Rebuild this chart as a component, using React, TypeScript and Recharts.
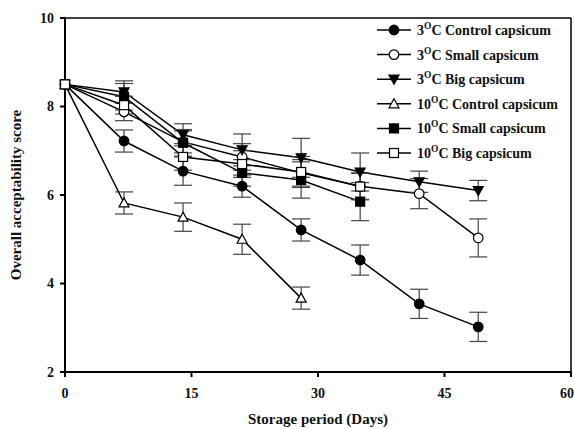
import React from "react";
import {
  LineChart,
  Line,
  XAxis,
  YAxis,
  ErrorBar,
  ReferenceLine,
  Label,
} from "recharts";

const FONT = "'Liberation Serif', 'Times New Roman', serif";

const days = [0, 7, 14, 21, 28, 35, 42, 49];
const xTicks = [0, 15, 30, 45, 60];
const yTicks = [2, 4, 6, 8, 10];

const c3Control = [8.5, 7.22, 6.54, 6.2, 5.21, 4.53, 3.54, 3.02];
const c3ControlErr = [null, 0.25, 0.32, 0.25, 0.25, 0.34, 0.33, 0.33];
const c3Small = [8.5, 7.88, 7.2, 6.86, 6.5, 6.2, 6.03, 5.03];
const c3SmallErr = [null, 0.2, 0.25, 0.3, 0.3, 0.3, 0.34, 0.43];
const c3Big = [8.5, 8.33, 7.36, 7.02, 6.84, 6.52, 6.3, 6.1];
const c3BigErr = [null, 0.25, 0.25, 0.36, 0.44, 0.43, 0.24, 0.23];
const c10Control = [8.5, 5.82, 5.5, 5.0, 3.67, null, null, null];
const c10ControlErr = [null, 0.25, 0.32, 0.34, 0.25, null, null, null];
const c10Small = [8.5, 8.22, 7.18, 6.5, 6.34, 5.85, null, null];
const c10SmallErr = [null, 0.3, 0.3, 0.3, 0.41, 0.43, null, null];
const c10Big = [8.5, 8.03, 6.86, 6.7, 6.52, 6.19, null, null];
const c10BigErr = [null, 0.2, 0.3, 0.3, 0.35, 0.3, null, null];

const series = [
  { key: "c3Control", temp: "3", name: "Control capsicum", shape: "circle", filled: true, values: c3Control, err: c3ControlErr },
  { key: "c3Small", temp: "3", name: "Small capsicum", shape: "circle", filled: false, values: c3Small, err: c3SmallErr },
  { key: "c3Big", temp: "3", name: "Big capsicum", shape: "down", filled: true, values: c3Big, err: c3BigErr },
  { key: "c10Control", temp: "10", name: "Control capsicum", shape: "up", filled: false, values: c10Control, err: c10ControlErr },
  { key: "c10Small", temp: "10", name: "Small capsicum", shape: "square", filled: true, values: c10Small, err: c10SmallErr },
  { key: "c10Big", temp: "10", name: "Big capsicum", shape: "square", filled: false, values: c10Big, err: c10BigErr },
];

const data = days.map((d, i) => {
  const row: Record<string, number | null> = { day: d };
  series.forEach((s) => {
    row[s.key] = s.values[i];
    row[s.key + "Err"] = s.err[i];
  });
  return row;
});

function Marker({ cx, cy, shape, filled }: { cx: number; cy: number; shape: string; filled: boolean }) {
  const fill = filled ? "#000" : "#fff";
  const stroke = "#000";
  if (shape === "circle") return <circle cx={cx} cy={cy} r={4.8} fill={fill} stroke={stroke} strokeWidth={1.2} />;
  if (shape === "square") return <rect x={cx - 4.5} y={cy - 4.5} width={9} height={9} fill={fill} stroke={stroke} strokeWidth={1.2} />;
  if (shape === "down")
    return <polygon points={`${cx - 5},${cy - 4} ${cx + 5},${cy - 4} ${cx},${cy + 5}`} fill={fill} stroke={stroke} strokeWidth={1.2} />;
  return <polygon points={`${cx - 5},${cy + 4} ${cx + 5},${cy + 4} ${cx},${cy - 5}`} fill={fill} stroke={stroke} strokeWidth={1.2} />;
}

const makeDot = (shape: string, filled: boolean) => (props: any) => {
  const { cx, cy, index, value } = props;
  if (value == null || cx == null || cy == null) return <g key={`e-${index}`} />;
  return (
    <g key={`d-${index}`}>
      <Marker cx={cx} cy={cy} shape={shape} filled={filled} />
    </g>
  );
};

function ChartLegend() {
  return (
    <svg width={200} height={150} style={{ position: "absolute", left: 375, top: 20 }}>
      {series.map((s, i) => {
        const y = 10 + i * 24.6;
        return (
          <g key={s.key}>
            <line x1={2} x2={36} y1={y} y2={y} stroke="#000" strokeWidth={1.5} />
            <Marker cx={19} cy={y} shape={s.shape} filled={s.filled} />
            <text x={42} y={y + 5} fontFamily={FONT} fontWeight="bold" fontSize={14} fill="#111">
              {s.temp}
              <tspan fontSize={9.5} dy={-6}>O</tspan>
              <tspan dy={6}>{"C " + s.name}</tspan>
            </text>
          </g>
        );
      })}
    </svg>
  );
}

const tickStyle = { fontFamily: FONT, fontWeight: "bold", fontSize: 14, fill: "#111" };

export default function App() {
  return (
    <div style={{ position: "absolute", left: 0, top: 0, width: 574, height: 429, background: "#fff" }}>
      <LineChart width={574} height={429} data={data} margin={{ top: 18, right: 3, bottom: 0, left: 0 }}>
        <XAxis
          dataKey="day"
          type="number"
          domain={[0, 60]}
          ticks={xTicks}
          height={57}
          stroke="#000"
          strokeWidth={2}
          tickSize={5}
          tick={tickStyle}
          tickMargin={11}
        >
          <Label
            value="Storage period (Days)"
            position="insideBottom"
            offset={5}
            style={{ fontFamily: FONT, fontWeight: "bold", fontSize: 15, fill: "#111" }}
          />
        </XAxis>
        <YAxis
          type="number"
          domain={[2, 10]}
          ticks={yTicks}
          width={65}
          stroke="#000"
          strokeWidth={2}
          tickSize={5}
          tick={tickStyle}
          tickMargin={6}
        >
          <Label
            value="Overall acceptability score"
            angle={-90}
            position="insideLeft"
            offset={16}
            style={{ textAnchor: "middle", fontFamily: FONT, fontWeight: "bold", fontSize: 15, fill: "#111" }}
          />
        </YAxis>
        <ReferenceLine y={10} stroke="#000" strokeWidth={1.5} />
        <ReferenceLine x={60} stroke="#000" strokeWidth={1.5} />
        {series.map((s) => (
          <Line
            key={s.key}
            dataKey={s.key}
            stroke="#000"
            strokeWidth={1.5}
            dot={makeDot(s.shape, s.filled)}
            activeDot={false}
            isAnimationActive={false}
          >
            <ErrorBar dataKey={s.key + "Err"} width={9} stroke="#444" strokeWidth={1.2} direction="y" />
          </Line>
        ))}
      </LineChart>
      <ChartLegend />
    </div>
  );
}
